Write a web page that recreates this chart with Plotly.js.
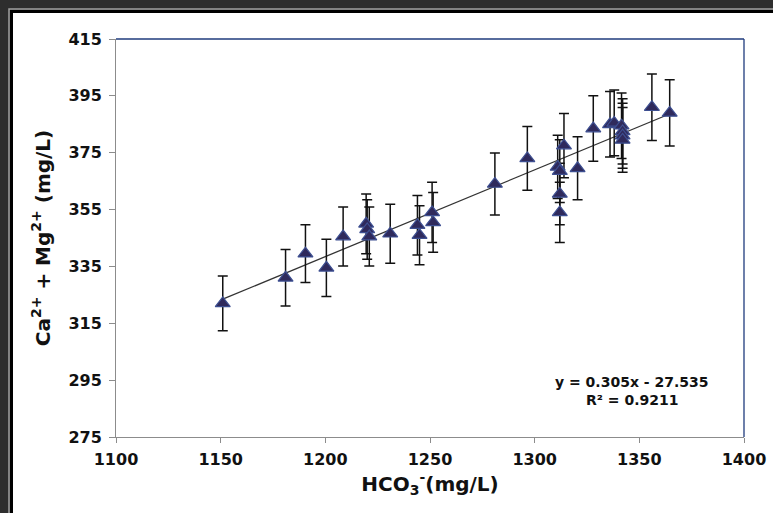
<!DOCTYPE html>
<html>
<head>
<meta charset="utf-8">
<script src="https://cdn.plot.ly/plotly-3.0.1.min.js"></script>
<style>html,body{margin:0;padding:0;background:#2e2e2e;}#chart{width:773px;height:513px;}</style>
</head>
<body>
<div id="chart"></div>
<script>
// HCO3- (mg/L)
const hco3 = [1151, 1181, 1190.5, 1200.5, 1208.5, 1219.5, 1220, 1221, 1231, 1244, 1245, 1251, 1251.5,
              1281, 1296.5, 1311, 1312, 1312, 1312, 1314, 1320.5, 1328, 1336, 1338,
              1341.5, 1342, 1342, 1342, 1356, 1364.5];
// Ca2+ + Mg2+ (mg/L)
const caMg = [322, 331, 339.5, 334.5, 345.5, 350, 348, 345.5, 346.5, 349.5, 346, 354, 350.5,
              364, 373, 370, 368.5, 360.5, 354, 377.5, 369.5, 383.5, 385, 385.5,
              384.5, 382.5, 381, 379.5, 391, 389];
const errPercent = 3;
// trendline endpoints as drawn
const trendX = [1151, 1365];
const trendY = [323.5, 388.8];
const eqText = "y = 0.305x - 27.535";
const r2Text = "R² = 0.9211";
const xTicks = [1100, 1150, 1200, 1250, 1300, 1350, 1400];
const yTicks = [275, 295, 315, 335, 355, 375, 395, 415];

const FONT = "DejaVu Sans, Liberation Sans, Arial, sans-serif";

const traces = [
  {x: trendX, y: trendY, mode: 'lines', type: 'scatter',
   line: {color: '#333333', width: 1.3}, hoverinfo: 'skip', showlegend: false},
  {x: hco3, y: caMg, mode: 'markers', type: 'scatter', showlegend: false,
   marker: {symbol: 'triangle-up', size: 13, color: '#2f2a5c',
            line: {color: '#3d4f91', width: 1.2}},
   error_y: {type: 'percent', value: errPercent, color: '#111', thickness: 1.5, width: 5}}
];

const layout = {
  width: 773, height: 513,
  margin: {l: 116, r: 29, t: 39, b: 76},
  paper_bgcolor: '#2e2e2e',
  plot_bgcolor: 'rgba(0,0,0,0)',
  showlegend: false,
  font: {family: FONT, color: '#111'},
  xaxis: {
    range: [1100, 1400], tickvals: xTicks, ticktext: xTicks.map(String),
    ticks: 'outside', ticklen: 5, tickcolor: '#8c8c8c', tickwidth: 1,
    showline: true, linecolor: '#8c8c8c', linewidth: 1,
    showgrid: false, zeroline: false, ticklabelstandoff: 3,
    tickfont: {family: FONT, size: 16, weight: 'bold', color: '#111'},
    title: {text: 'HCO<sub>3</sub><sup>-</sup>(mg/L)', standoff: 8,
            font: {family: FONT, size: 20, weight: 'bold', color: '#111'}}
  },
  yaxis: {
    range: [275, 415], tickvals: yTicks, ticktext: yTicks.map(String),
    ticks: 'outside', ticklen: 6, tickcolor: '#8c8c8c', tickwidth: 1,
    showline: true, linecolor: '#8c8c8c', linewidth: 1,
    showgrid: false, zeroline: false, ticklabelstandoff: 4,
    tickfont: {family: FONT, size: 16, weight: 'bold', color: '#111'},
    title: {text: 'Ca<sup>2+</sup> + Mg<sup>2+</sup> (mg/L)', standoff: 12,
            font: {family: FONT, size: 20, weight: 'bold', color: '#111'}}
  },
  shapes: [
    {type: 'rect', xref: 'paper', yref: 'paper', layer: 'below',
     x0: -0.1704, x1: 1.2, y0: -0.4, y1: 1.0754,
     fillcolor: 'rgba(0,0,0,0)', line: {color: '#a0a0a0', width: 1.5}},
    {type: 'rect', xref: 'paper', yref: 'paper', layer: 'below',
     x0: -0.1664, x1: 1.2, y0: -0.4, y1: 1.0691,
     fillcolor: '#ffffff', line: {color: '#000000', width: 3}},
    {type: 'line', xref: 'paper', yref: 'paper', x0: 0, x1: 1, y0: 1, y1: 1,
     line: {color: '#1f3b7d', width: 1.3}},
    {type: 'line', xref: 'paper', yref: 'paper', x0: 1, x1: 1, y0: 0, y1: 1,
     line: {color: '#1f3b7d', width: 1.3}}
  ],
  annotations: [
    {xref: 'paper', yref: 'paper', x: 0.8217, y: 0.1394, text: eqText, showarrow: false,
     xanchor: 'center', yanchor: 'middle',
     font: {family: FONT, size: 14, weight: 'bold', color: '#111'}},
    {xref: 'paper', yref: 'paper', x: 0.8217, y: 0.093, text: r2Text, showarrow: false,
     xanchor: 'center', yanchor: 'middle',
     font: {family: FONT, size: 14, weight: 'bold', color: '#111'}}
  ]
};

Plotly.newPlot('chart', traces, layout, {displayModeBar: false, staticPlot: true});
</script>
</body>
</html>
